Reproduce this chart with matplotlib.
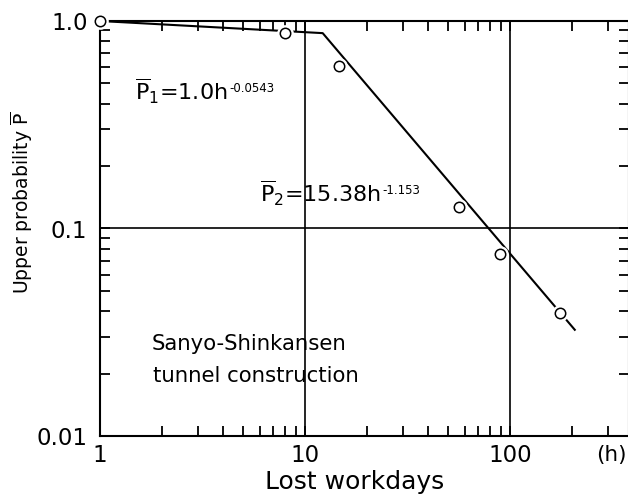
import matplotlib
matplotlib.use("Agg")
import matplotlib.pyplot as plt
from matplotlib.ticker import FixedLocator, NullFormatter

# observed points (lost workdays h, upper probability P)
hours = [1.0, 8.0, 14.7, 56.6, 89.4, 175.0]
prob = [1.0, 0.873, 0.607, 0.127, 0.0754, 0.039]

# fitted broken line (kink near h = 12)
fit_h = [1.0, 12.2, 207.0]
fit_p = [1.0, 0.874, 0.0325]

x_ticks = [1, 10, 100]
x_ticklabels = ['1', '10', '100']
y_ticks = [0.01, 0.1, 1.0]
y_ticklabels = ['0.01', '0.1', '1.0']

plt.rcParams['font.family'] = 'DejaVu Sans'
plt.rcParams['mathtext.fontset'] = 'custom'
plt.rcParams['mathtext.rm'] = 'DejaVu Sans'
plt.rcParams['mathtext.it'] = 'DejaVu Sans'

W, H = 628, 499
fig = plt.figure(figsize=(W/100, H/100), dpi=100)
ax = fig.add_axes([100/W, 63/H, 529/W, 415/H])

ax.set_xscale('log')
ax.set_yscale('log')
ax.set_xlim(1, 10**(529/205))
ax.set_ylim(0.01, 1.0)

# grid lines only at 10, 100 and 0.1
for gx in [10, 100]:
    ax.axvline(gx, color='black', lw=1.2, zorder=1)
ax.axhline(0.1, color='black', lw=1.2, zorder=1)

ax.plot(fit_h, fit_p, color='black', lw=1.5, zorder=2)
# white halo so the line breaks around each circle
ax.plot(hours, prob, 'o', ms=12, mfc='white', mec='white', mew=0,
        zorder=2.6, clip_on=False)
ax.plot(hours, prob, 'o', ms=7.5, mfc='white', mec='black', mew=1.1,
        zorder=3, clip_on=False)

ax.xaxis.set_major_locator(FixedLocator(x_ticks))
ax.set_xticklabels(x_ticklabels)
ax.yaxis.set_major_locator(FixedLocator(y_ticks))
ax.set_yticklabels(y_ticklabels)
ax.xaxis.set_minor_formatter(NullFormatter())
ax.yaxis.set_minor_formatter(NullFormatter())
ax.tick_params(which='both', direction='in', top=True, right=True,
               width=1.3, length=7, labelsize=16.5)
ax.tick_params(axis='x', which='major', pad=6)
ax.tick_params(axis='y', which='major', pad=9)
for s in ax.spines.values():
    s.set_linewidth(1.5)

def px(x, y):
    return (x, H - y)

ax.annotate('(h)', xy=px(611, 455), xycoords='figure pixels',
            ha='center', va='center', fontsize=15.5)
ax.annotate('Lost workdays', xy=px(355, 482), xycoords='figure pixels',
            ha='center', va='center', fontsize=18)
ax.annotate(r'Upper probability $\overline{\mathrm{P}}$', xy=px(22, 203),
            xycoords='figure pixels', ha='center', va='center',
            rotation=90, fontsize=13.5)

# formulas: main part, then a small raised exponent
renderer = fig.canvas.get_renderer()
formulas = [
    (135, 100, r'$\overline{\mathrm{P}}_{1}$=1.0h', '-0.0543'),
    (260, 202, r'$\overline{\mathrm{P}}_{2}$=15.38h', '-1.153'),
]
for fx, fy, main, expo in formulas:
    t = ax.annotate(main, xy=px(fx, fy), xycoords='figure pixels',
                    ha='left', va='baseline', fontsize=16)
    bb = t.get_window_extent(renderer)
    ax.annotate(expo, xy=(bb.x1 + 2, H - fy + 8), xycoords='figure pixels',
                ha='left', va='baseline', fontsize=8.5)

ax.annotate('Sanyo-Shinkansen', xy=px(152, 350), xycoords='figure pixels',
            ha='left', va='baseline', fontsize=15.3)
ax.annotate('tunnel construction', xy=px(153, 382), xycoords='figure pixels',
            ha='left', va='baseline', fontsize=15.3)

fig.savefig('out.png', dpi=100)
